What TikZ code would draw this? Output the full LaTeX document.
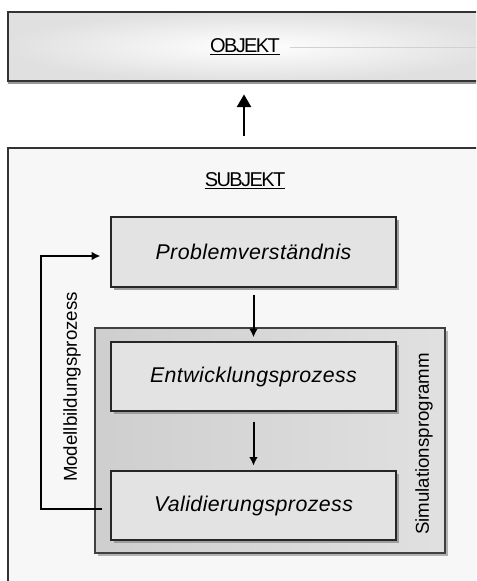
\documentclass[tikz,border=0pt]{standalone}
\usepackage{fontspec}
\setmainfont{Liberation Sans}
\usetikzlibrary{arrows.meta,shadows,fit}
\begin{document}
\begin{tikzpicture}[x=0.75pt,y=-0.75pt,
  panel/.style={draw=black!80, line width=1.1pt, inner sep=0pt},
  stepbox/.style={draw=black!85, line width=1pt, fill=black!11, inner sep=0pt,
    drop shadow={shadow xshift=2.2pt, shadow yshift=-2.2pt, fill=black!38, opacity=1}},
  simbox/.style={draw=black!75, line width=1pt, inner sep=0pt,
    left color=black!19, right color=black!12,
    drop shadow={shadow xshift=2.2pt, shadow yshift=-2.2pt, fill=black!30, opacity=1}},
  title/.style={font=\fontsize{15pt}{17pt}\selectfont\addfontfeature{LetterSpace=-8}, inner sep=1pt},
  steptext/.style={font=\fontsize{16pt}{19pt}\selectfont\itshape\addfontfeature{LetterSpace=2}},
  sidetext/.style={font=\fontsize{14pt}{17pt}\selectfont, rotate=90},
  flow/.style={line width=1.5pt, -{Latex[length=6.5pt,width=6.5pt]}},
  lift/.style={line width=1.7pt, -{Triangle[length=9.5pt,width=10.5pt]}},
]
\useasboundingbox (0,0) rectangle (476,581);
\clip (0,0) rectangle (476,581);

% outer panels
\node[panel, fit={(8,12)(500,81)}, inner color=white, outer color=black!12,
  drop shadow={shadow xshift=0pt, shadow yshift=-2.5pt, fill=black!40, opacity=1}] (obj) {};
\node[panel, fit={(8,148)(500,620)}, fill=black!3] (subj) {};

% panel titles
\node[title] (objtitle) at (245,47) {\underline{OBJEKT}};
\draw[black!18, line width=0.6pt] ([xshift=6pt]objtitle.east) -- (obj.east |- objtitle.east);
\node[title] (subjtitle) at (245,181) {\underline{SUBJEKT}};

% simulation program frame
\node[simbox, fit={(95,328)(445,553)}] (sim) {};
\node[sidetext] (simlabel) at (424,444) {Simulationsprogramm};

% process steps
\node[stepbox, fit={(111,217)(396,287)}] (prob) {};
\node[steptext] at (prob.center) {Problemverständnis};
\node[stepbox, fit={(111,342)(396,411)}] (ent) {};
\node[steptext] at (ent.center) {Entwicklungsprozess};
\node[stepbox, fit={(111,471)(396,540)}] (val) {};
\node[steptext] at (val.center) {Validierungsprozess};

% modelling loop
\node[sidetext] (loopl) at (72,387) {Modellbildungsprozess};
\draw[line width=1.5pt, -{Latex[length=6.5pt,width=6.5pt]}]
  ([xshift=-6pt,yshift=-2.5pt]val.west) -- ++(-61,0)
  |- ([xshift=-7.5pt,yshift=-3pt]prob.west);

% step flow
\draw[flow, shorten <=5.2pt, shorten >=3pt] (prob.south) -- (ent.north);
\draw[flow, shorten <=7.5pt, shorten >=3.5pt] (ent.south) -- (val.north);

% subject acts on object
\coordinate (liftx) at (244,0);
\draw[lift, shorten <=8.2pt, shorten >=9.5pt] (subj.north -| liftx) -- (obj.south -| liftx);
\end{tikzpicture}
\end{document}
